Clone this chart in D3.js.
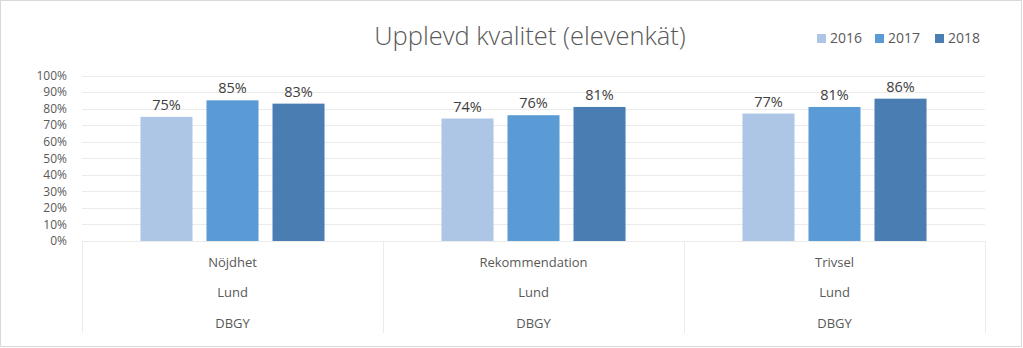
<!DOCTYPE html>
<html>
<head>
<meta charset="utf-8">
<script src="https://cdn.jsdelivr.net/npm/d3@7"></script>
<style>
  body { margin: 0; background: #fff; }
  svg { display: block; font-family: "Open Sans", "Noto Sans", sans-serif; }
</style>
</head>
<body>
<div class="canvas"></div>
<script>
// data
const categories = ['Nöjdhet', 'Rekommendation', 'Trivsel'];
const cities = ['Lund', 'Lund', 'Lund'];
const schools = ['DBGY', 'DBGY', 'DBGY'];
const years = ['2016', '2017', '2018'];
const values2016 = [0.75, 0.74, 0.77];
const values2017 = [0.85, 0.76, 0.81];
const values2018 = [0.83, 0.81, 0.86];
const yTicks = [0, 0.1, 0.2, 0.3, 0.4, 0.5, 0.6, 0.7, 0.8, 0.9, 1];

const dims = { width: 1023, height: 348 };
const plot = { left: 82, right: 985, top: 75.5, bottom: 241 };

const series = [values2016, values2017, values2018];
const rows = categories.map((c, i) => ({
  name: c, city: cities[i], school: schools[i],
  vals: years.map((y, j) => ({ year: y, value: series[j][i] }))
}));

const svg = d3.select('.canvas')
  .append('svg')
    .attr('width', dims.width)
    .attr('height', dims.height);

// outer frame
svg.append('rect')
  .attr('x', 0.5).attr('y', 0.5)
  .attr('width', dims.width - 2).attr('height', dims.height - 2)
  .attr('fill', '#fff')
  .attr('stroke', '#d9d9d9');

// scales
const x0 = d3.scaleBand()
  .domain(categories)
  .range([plot.left, plot.right]);

const x1 = d3.scaleBand()
  .domain(years)
  .range([0, x0.bandwidth()])
  .paddingInner(0.212)
  .paddingOuter(0.886);

const y = d3.scaleLinear()
  .domain([0, 1])
  .range([plot.bottom, plot.top]);

const color = d3.scaleOrdinal()
  .domain(years)
  .range(['#adc6e5', '#5b9bd5', '#4a7db1']);

// gridlines
svg.append('g')
  .selectAll('line')
  .data(yTicks)
  .join('line')
    .attr('x1', plot.left).attr('x2', plot.right)
    .attr('y1', d => Math.round(y(d)) + 0.5)
    .attr('y2', d => Math.round(y(d)) + 0.5)
    .attr('stroke', '#ebebeb');

// y axis labels
const yAxis = svg.append('g')
  .attr('transform', `translate(${plot.left}, 0)`)
  .call(d3.axisLeft(y).tickValues(yTicks).tickFormat(d3.format('.0%')).tickSize(0).tickPadding(15));
yAxis.select('.domain').remove();
yAxis.selectAll('text')
  .attr('font-size', 12)
  .attr('font-family', '"Open Sans", sans-serif')
  .attr('fill', '#595959');

// category separators
svg.append('g')
  .selectAll('line')
  .data([...categories.map(c => x0(c)), plot.right])
  .join('line')
    .attr('x1', d => Math.round(d) + 0.5).attr('x2', d => Math.round(d) + 0.5)
    .attr('y1', plot.bottom).attr('y2', 333)
    .attr('stroke', '#ebebeb');

// bars
const groups = svg.append('g')
  .selectAll('g')
  .data(rows)
  .join('g')
    .attr('transform', d => `translate(${x0(d.name)}, 0)`);

groups.selectAll('rect')
  .data(d => d.vals)
  .join('rect')
    .attr('x', d => x1(d.year))
    .attr('y', d => y(d.value))
    .attr('width', x1.bandwidth())
    .attr('height', d => y(0) - y(d.value))
    .attr('fill', d => color(d.year));

groups.selectAll('text.val')
  .data(d => d.vals)
  .join('text')
    .attr('class', 'val')
    .attr('x', d => x1(d.year) + x1.bandwidth() / 2)
    .attr('y', d => y(d.value) - 7)
    .attr('text-anchor', 'middle')
    .attr('font-size', 14.5)
    .attr('fill', '#404040')
    .text(d => d3.format('.0%')(d.value));

// category labels (three levels)
const labelRows = [
  { key: 'name', y: 262 },
  { key: 'city', y: 292 },
  { key: 'school', y: 323 }
];
labelRows.forEach(r => {
  groups.append('text')
    .attr('x', x0.bandwidth() / 2)
    .attr('y', r.y)
    .attr('dy', '0.35em')
    .attr('text-anchor', 'middle')
    .attr('font-size', 13)
    .attr('fill', '#595959')
    .text(d => d[r.key]);
});

// title
svg.append('text')
  .attr('x', 530)
  .attr('y', 45)
  .attr('text-anchor', 'middle')
  .attr('font-size', 25.5)
  .attr('font-weight', 300)
  .attr('fill', '#595959')
  .text('Upplevd kvalitet (elevenkät)');

// legend
const legendX = [817, 875, 935];
const legend = svg.append('g')
  .selectAll('g')
  .data(years)
  .join('g')
    .attr('transform', (d, i) => `translate(${legendX[i]}, 34)`);

legend.append('rect')
  .attr('width', 9).attr('height', 9)
  .attr('fill', d => color(d));

legend.append('text')
  .attr('x', 13)
  .attr('y', 4.5)
  .attr('dy', '0.35em')
  .attr('font-size', 14)
  .attr('fill', '#595959')
  .text(d => d);
</script>
</body>
</html>
